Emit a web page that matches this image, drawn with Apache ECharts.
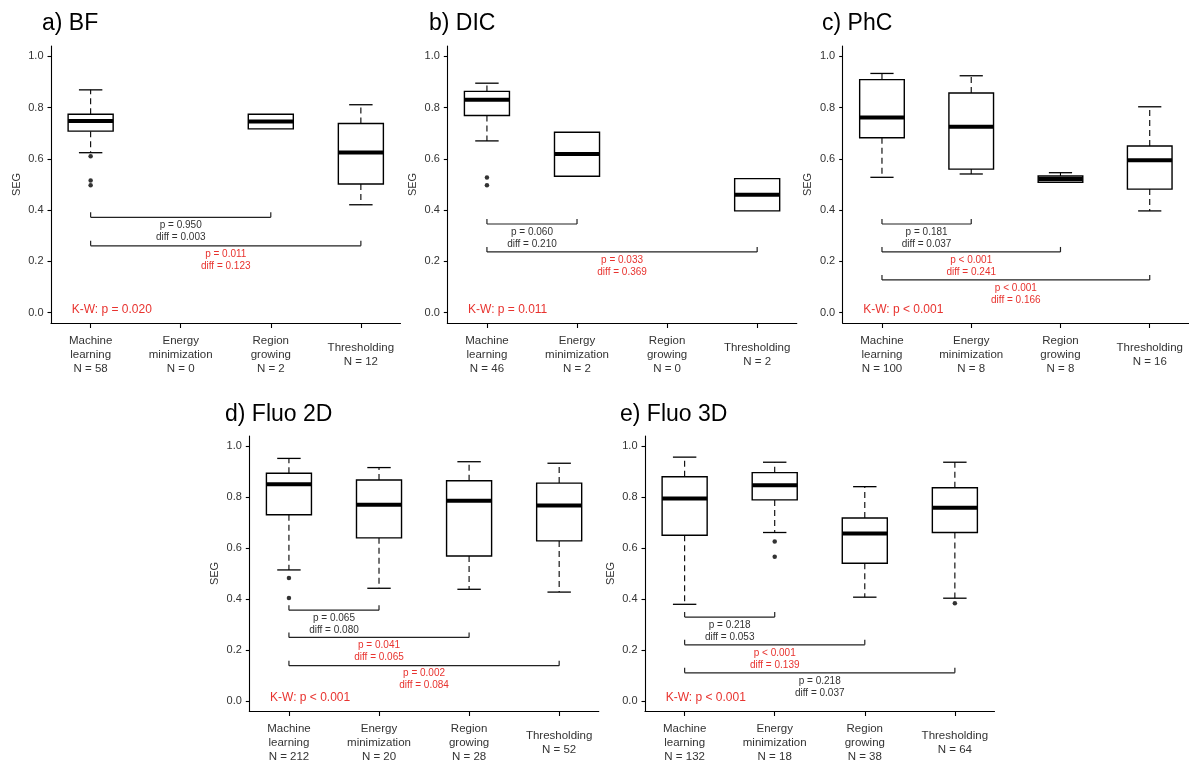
<!DOCTYPE html>
<html>
<head>
<meta charset="utf-8">
<script src="https://cdn.jsdelivr.net/npm/echarts@6/dist/echarts.min.js"></script>
<style>
html,body{margin:0;padding:0;background:#fff;}
#chart{width:1189px;height:764px;}
</style>
</head>
<body>
<div id="chart"></div>
<script>
// ---------- data ----------
const categories = ['Machine\nlearning', 'Energy\nminimization', 'Region\ngrowing', 'Thresholding'];
const panelTitles = ['a) BF', 'b) DIC', 'c) PhC', 'd) Fluo 2D', 'e) Fluo 3D'];
const yTicks = [0, 0.2, 0.4, 0.6, 0.8, 1.0];
const xTicks = [1, 2, 3, 4];

// box stats: [category position, lower whisker, Q1, median, Q3, upper whisker]
const nBF = [58, 0, 2, 12];
const boxBF = [
  [1, 0.624, 0.708, 0.748, 0.774, 0.869],
  [3, 0.717, 0.717, 0.746, 0.774, 0.774],
  [4, 0.421, 0.502, 0.625, 0.738, 0.811]
];
const outBF = [[1, 0.610], [1, 0.516], [1, 0.497]];
const brBF = [[1, 3, 0.372, 'p = 0.950', 'diff = 0.003'], [1, 4, 0.261, 'p = 0.011', 'diff = 0.123']];
const kwBF = 'K-W: p = 0.020';

const nDIC = [46, 2, 0, 2];
const boxDIC = [
  [1, 0.670, 0.769, 0.830, 0.863, 0.895],
  [2, 0.532, 0.532, 0.619, 0.704, 0.704],
  [4, 0.397, 0.397, 0.460, 0.523, 0.523]
];
const outDIC = [[1, 0.527], [1, 0.497]];
const brDIC = [[1, 2, 0.346, 'p = 0.060', 'diff = 0.210'], [1, 4, 0.237, 'p = 0.033', 'diff = 0.369']];
const kwDIC = 'K-W: p = 0.011';

const nPhC = [100, 8, 8, 16];
const boxPhC = [
  [1, 0.528, 0.682, 0.761, 0.909, 0.933],
  [2, 0.541, 0.560, 0.725, 0.857, 0.924],
  [3, 0.509, 0.509, 0.521, 0.533, 0.546],
  [4, 0.397, 0.482, 0.595, 0.650, 0.803]
];
const outPhC = [];
const brPhC = [[1, 2, 0.346, 'p = 0.181', 'diff = 0.037'], [1, 3, 0.237, 'p < 0.001', 'diff = 0.241'], [1, 4, 0.128, 'p < 0.001', 'diff = 0.166']];
const kwPhC = 'K-W: p < 0.001';

const nFluo2D = [212, 20, 28, 52];
const boxFluo2D = [
  [1, 0.514, 0.731, 0.851, 0.894, 0.952],
  [2, 0.442, 0.640, 0.770, 0.867, 0.916],
  [3, 0.438, 0.569, 0.786, 0.864, 0.939],
  [4, 0.427, 0.628, 0.767, 0.855, 0.933]
];
const outFluo2D = [[1, 0.482], [1, 0.404]];
const brFluo2D = [[1, 2, 0.356, 'p = 0.065', 'diff = 0.080'], [1, 3, 0.249, 'p = 0.041', 'diff = 0.065'], [1, 4, 0.138, 'p = 0.002', 'diff = 0.084']];
const kwFluo2D = 'K-W: p < 0.001';

const nFluo3D = [132, 18, 38, 64];
const boxFluo3D = [
  [1, 0.379, 0.650, 0.795, 0.880, 0.957],
  [2, 0.661, 0.789, 0.847, 0.896, 0.937],
  [3, 0.407, 0.540, 0.657, 0.718, 0.841],
  [4, 0.403, 0.661, 0.758, 0.837, 0.937]
];
const outFluo3D = [[2, 0.626], [2, 0.566], [4, 0.383]];
const brFluo3D = [[1, 2, 0.329, 'p = 0.218', 'diff = 0.053'], [1, 3, 0.220, 'p < 0.001', 'diff = 0.139'], [1, 4, 0.110, 'p = 0.218', 'diff = 0.037']];
const kwFluo3D = 'K-W: p < 0.001';

// ---------- layout / style ----------
const FONT = '"Liberation Sans", Arial, Helvetica, sans-serif';
const RED = '#E8332F';
const DARK = '#333333';

const panels = [
  { title: panelTitles[0], n: nBF, box: boxBF, out: outBF, br: brBF, kw: kwBF, left: 51, top: 46, tl: 42, tt: 12 },
  { title: panelTitles[1], n: nDIC, box: boxDIC, out: outDIC, br: brDIC, kw: kwDIC, left: 447.3, top: 46, tl: 429, tt: 12 },
  { title: panelTitles[2], n: nPhC, box: boxPhC, out: outPhC, br: brPhC, kw: kwPhC, left: 842.7, top: 46, tl: 822, tt: 12 },
  { title: panelTitles[3], n: nFluo2D, box: boxFluo2D, out: outFluo2D, br: brFluo2D, kw: kwFluo2D, left: 249.3, top: 436, tl: 225, tt: 403 },
  { title: panelTitles[4], n: nFluo3D, box: boxFluo3D, out: outFluo3D, br: brFluo3D, kw: kwFluo3D, left: 645, top: 436, tl: 620, tt: 403 }
];

function isSig(p) {
  if (p.indexOf('<') >= 0) return true;
  const v = parseFloat(p.replace(/[^0-9.]/g, ''));
  return v < 0.05;
}

function boxRender(params, api) {
  const x = api.value(0);
  const lo = api.value(1), q1 = api.value(2), med = api.value(3), q3 = api.value(4), hi = api.value(5);
  const cx = api.coord([x, med])[0];
  const hw = api.size([0.25, 0])[0];
  const cw = api.size([0.13, 0])[0];
  const yLo = api.coord([x, lo])[1];
  const yQ1 = api.coord([x, q1])[1];
  const yMed = api.coord([x, med])[1];
  const yQ3 = api.coord([x, q3])[1];
  const yHi = api.coord([x, hi])[1];
  const children = [];
  const wStyle = { stroke: '#000', lineWidth: 1.1, lineDash: [6, 4] };
  if (hi > q3) {
    children.push({ type: 'line', shape: { x1: cx, y1: yQ3, x2: cx, y2: yHi }, style: wStyle });
    children.push({ type: 'line', shape: { x1: cx - cw, y1: yHi, x2: cx + cw, y2: yHi }, style: { stroke: '#000', lineWidth: 1.3 } });
  }
  if (lo < q1) {
    children.push({ type: 'line', shape: { x1: cx, y1: yQ1, x2: cx, y2: yLo }, style: wStyle });
    children.push({ type: 'line', shape: { x1: cx - cw, y1: yLo, x2: cx + cw, y2: yLo }, style: { stroke: '#000', lineWidth: 1.3 } });
  }
  children.push({ type: 'rect', shape: { x: cx - hw, y: yQ3, width: 2 * hw, height: yQ1 - yQ3 }, style: { fill: '#fff', stroke: '#000', lineWidth: 1.4 } });
  children.push({ type: 'line', shape: { x1: cx - hw, y1: yMed, x2: cx + hw, y2: yMed }, style: { stroke: '#000', lineWidth: 4 } });
  return { type: 'group', children: children };
}

function makeBracketRender(br) {
  return function (params, api) {
    const b = br[params.dataIndex];
    const p1 = api.coord([api.value(0), api.value(2)]);
    const p2 = api.coord([api.value(1), api.value(2)]);
    const color = isSig(b[3]) ? RED : DARK;
    const mid = (p1[0] + p2[0]) / 2;
    const ls = { stroke: '#222', lineWidth: 1.2 };
    return {
      type: 'group',
      children: [
        { type: 'line', shape: { x1: p1[0], y1: p1[1], x2: p2[0], y2: p2[1] }, style: ls },
        { type: 'line', shape: { x1: p1[0], y1: p1[1], x2: p1[0], y2: p1[1] - 5 }, style: ls },
        { type: 'line', shape: { x1: p2[0], y1: p2[1], x2: p2[0], y2: p2[1] - 5 }, style: ls },
        { type: 'text', style: { x: mid, y: p1[1] + 8, text: b[3], fill: color, font: '10px ' + FONT, align: 'center', verticalAlign: 'middle', textAlign: 'center', textVerticalAlign: 'middle' } },
        { type: 'text', style: { x: mid, y: p1[1] + 20, text: b[4], fill: color, font: '10px ' + FONT, align: 'center', verticalAlign: 'middle', textAlign: 'center', textVerticalAlign: 'middle' } }
      ]
    };
  };
}

function makeKwRender(txt) {
  return function (params, api) {
    const p = api.coord([api.value(0), api.value(1)]);
    return { type: 'text', style: { x: p[0], y: p[1], text: txt, fill: RED, font: '12px ' + FONT, align: 'left', verticalAlign: 'middle', textAlign: 'left', textVerticalAlign: 'middle' } };
  };
}

const option = { animation: false, backgroundColor: '#fff', title: [], grid: [], xAxis: [], yAxis: [], series: [] };

panels.forEach(function (pn, i) {
  option.title.push({ text: pn.title, left: pn.tl, top: pn.tt, padding: 0, textStyle: { fontFamily: FONT, fontSize: 23, fontWeight: 'normal', color: '#000' } });
  option.grid.push({ left: pn.left, top: pn.top, width: 349.5, height: 277, containLabel: false });
  option.xAxis.push({
    type: 'value', gridIndex: i, min: 0.56, max: 4.44,
    splitLine: { show: false },
    axisLine: { show: true, onZero: false, lineStyle: { color: '#000', width: 1.1 } },
    axisTick: { show: true, length: 5, customValues: xTicks, lineStyle: { color: '#000', width: 1.1 } },
    axisLabel: {
      customValues: xTicks, margin: 32, verticalAlign: 'middle', align: 'center',
      fontFamily: FONT, fontSize: 11.5, lineHeight: 14, color: DARK,
      formatter: function (v) { const k = Math.round(v) - 1; return categories[k] + '\nN = ' + pn.n[k]; }
    }
  });
  option.yAxis.push({
    type: 'value', gridIndex: i, min: -0.04, max: 1.04,
    name: 'SEG', nameLocation: 'middle', nameGap: 29,
    nameTextStyle: { fontFamily: FONT, fontSize: 11, color: DARK },
    splitLine: { show: false },
    axisLine: { show: true, onZero: false, lineStyle: { color: '#000', width: 1.1 } },
    axisTick: { show: true, length: 3.5, customValues: yTicks, lineStyle: { color: '#000', width: 1.1 } },
    axisLabel: { customValues: yTicks, margin: 7.5, fontFamily: FONT, fontSize: 11, color: DARK, formatter: function (v) { return v.toFixed(1); } }
  });
  option.series.push({
    type: 'custom', xAxisIndex: i, yAxisIndex: i,
    data: pn.box, encode: { x: 0, y: [1, 2, 3, 4, 5] },
    renderItem: boxRender, silent: true
  });
  option.series.push({
    type: 'scatter', xAxisIndex: i, yAxisIndex: i,
    data: pn.out, symbol: 'circle', symbolSize: 4.5,
    itemStyle: { color: '#000' }, silent: true
  });
  option.series.push({
    type: 'custom', xAxisIndex: i, yAxisIndex: i,
    data: pn.br.map(function (b) { return [b[0], b[1], b[2]]; }),
    encode: { x: [0, 1], y: 2 },
    renderItem: makeBracketRender(pn.br), silent: true
  });
  option.series.push({
    type: 'custom', xAxisIndex: i, yAxisIndex: i,
    data: [[0.79, 0.012]], encode: { x: 0, y: 1 },
    renderItem: makeKwRender(pn.kw), silent: true
  });
});

const chart = echarts.init(document.getElementById('chart'), null, { renderer: 'canvas' });
chart.setOption(option);
</script>
</body>
</html>
